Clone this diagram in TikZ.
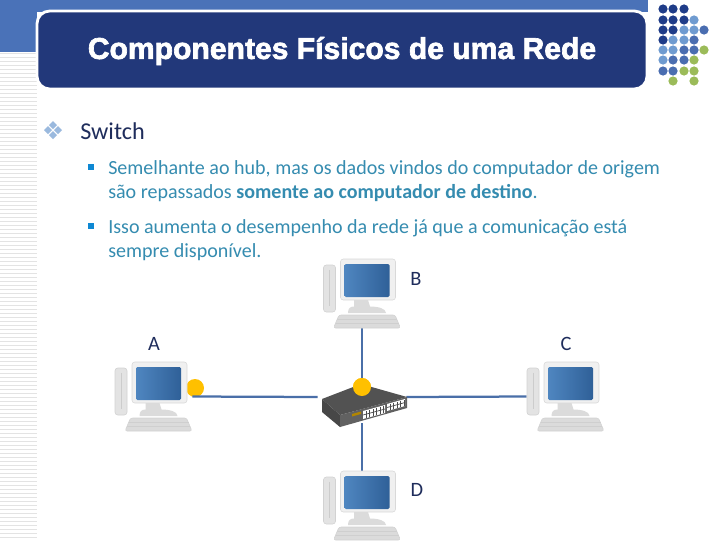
\documentclass[tikz,border=0pt]{standalone}
\usepackage{fontspec}
\setmainfont{Carlito}
\newfontfamily\titlefont[BoldFeatures={FakeBold=2.2}]{Liberation Sans}
\definecolor{bandblue}{HTML}{4A72B8}
\definecolor{titleblue}{HTML}{22387A}
\definecolor{navytxt}{HTML}{1F2D5C}
\definecolor{tealtxt}{HTML}{358CB0}
\definecolor{linkblue}{HTML}{4A6FA8}
\definecolor{dotorange}{HTML}{FFC000}
\definecolor{dotdark}{HTML}{1F3C88}
\definecolor{dotmid}{HTML}{4A6DB0}
\definecolor{dotlight}{HTML}{6F9BD0}
\definecolor{dotgreen}{HTML}{9BBB59}
\definecolor{screenA}{HTML}{4F86C0}
\definecolor{screenB}{HTML}{2F6098}
\def\px{0.025cm}
\tikzset{
  bodytxt/.style = {anchor = base west, inner sep = 0pt, text = tealtxt, font = \fontsize{14.25pt}{16pt}\selectfont},
  headtxt/.style = {anchor = base west, inner sep = 0pt, text = navytxt, font = \fontsize{17.2pt}{19pt}\selectfont},
  pclabel/.style = {inner sep = 0pt, text = navytxt, font = \fontsize{14.5pt}{16pt}\selectfont},
  pcbox/.style = {minimum width = 77*\px, minimum height = 69*\px, inner sep = 0pt},
  link/.style = {color = linkblue, line width = 1.6pt},
  port/.style = {circle, fill = dotorange, minimum size = 18*\px, inner sep = 0pt},
  pc/.pic = {
    % tower
    \draw [gray!35, fill = gray!22, rounded corners = 2pt] (-38.5,-28.5) rectangle (-26.5,18.5);
    \draw [gray!40] (-32.5,-24) -- (-32.5,12);
    % stand
    \fill [gray!28] (-8,6.5) -- (6,6.5) -- (8,13) .. controls (16,13) and (24,15) .. (24,19.5) -- (-14,19.5) .. controls (-14,15) and (-12,13) .. (-8,13) -- cycle;
    % monitor
    \draw [gray!30, fill = gray!12, rounded corners = 2pt] (-21.5,-34.5) rectangle (33.5,6.5);
    \shade [left color = screenA, right color = screenB, rounded corners = 1pt] (-17.5,-29.5) rectangle (27.5,3.5);
    % keyboard
    \draw [gray!35, fill = gray!28, rounded corners = 1.5pt] (-23,21.5) -- (33,21.5) -- (38.5,34.5) -- (-28.5,34.5) -- cycle;
    \draw [gray!38] (-25,26) -- (35,26) (-26.5,30) -- (36.5,30);
  },
}
\begin{document}
\begin{tikzpicture}[x = \px, y = -\px]
\useasboundingbox (0,0) rectangle (720,540);
\fill [white] (0,0) rectangle (720,540);

% left stripes
\foreach \yy in {53,57,...,537}
  \draw [gray!22, line width = 0.6pt] (0,\yy) -- (37,\yy);

% top band
\fill [bandblue] (0,0) rectangle (648,12);
\fill [bandblue] (0,0) rectangle (37,52);
\draw [white, fill = titleblue, line width = 2pt, rounded corners = 9pt] (37,11) rectangle (647,89);
\node (title) [text = white, inner sep = 0pt, font = \titlefont\bfseries\fontsize{21.4pt}{24pt}\selectfont] at (342,51) {Componentes Físicos de uma Rede};

% dots, top right
\foreach \xx/\yy/\cc in {
  663/9/dotdark, 673/9/dotdark, 684/9/dotdark,
  663/20/dotdark, 673/20/dotdark, 684/20/dotdark, 694/20/dotlight,
  663/30/dotdark, 673/30/dotdark, 684/30/dotlight, 694/30/dotlight, 704/30/dotmid,
  663/40/dotdark, 673/40/dotlight, 684/40/dotlight, 694/40/dotmid,
  663/50/dotlight, 673/50/dotlight, 684/50/dotmid, 694/50/dotmid, 704/50/dotgreen,
  663/60/dotlight, 673/60/dotmid, 684/60/dotmid, 694/60/dotgreen,
  663/71/dotmid, 673/71/dotmid, 684/71/dotgreen, 694/71/dotgreen,
  673/81/dotgreen, 694/81/dotgreen}
  \fill [\cc] (\xx,\yy) circle (4.6*\px);

% bullets
\foreach \xx/\yy in {53/125, 53/135, 48/130, 58/130}
  \fill [dotlight!70!white] (\xx-4,\yy) -- (\xx,\yy-4) -- (\xx+4,\yy) -- (\xx,\yy+4) -- cycle;
\foreach \yy in {164, 223}
  \fill [cyan!70!blue] (88,\yy) rectangle (94,\yy+6);

% text
\node (head) [headtxt] at (80,139) {Switch};
\node (lineA) [bodytxt] at (108,174) {Semelhante ao hub, mas os dados vindos do computador de origem};
\node (lineB) [bodytxt] at (108,198) {são repassados \textbf{somente ao computador de destino}.};
\node (lineC) [bodytxt] at (108,233) {Isso aumenta o desempenho da rede já que a comunicação está};
\node (lineD) [bodytxt] at (108,257) {sempre disponível.};

% computers and switch
\node (pcA) [pcbox] at (153.5,396.5) {};
\node (pcB) [pcbox] at (362,293.5) {};
\node (pcC) [pcbox] at (565.5,396.5) {};
\node (pcD) [pcbox] at (362,505.5) {};
\node (swt) [minimum width = 88*\px, minimum height = 52*\px, inner sep = 0pt] at (362,397) {};
\node (dotA) [port] at (195,388) {};
\node (dotS) [port] at (362,387) {};

\draw [link] (pcA.east) -- (swt.west);
\draw [link] (swt.east) -- (pcC.west);
\draw [link] (pcB.south) -- (dotS);
\draw [link] (swt.south) -- (pcD.north);

\pic at (pcA.center) {pc};
\pic at (pcB.center) {pc};
\pic at (pcC.center) {pc};
\pic at (pcD.center) {pc};

% switch body
\fill [black!72] (322,399) -- (340,415) -- (340,427) -- (322,412) -- cycle;
\fill [black!62] (340,415) -- (407,397) -- (407,408) -- (340,427) -- cycle;
\fill [black!68] (322,399) -- (361,384) -- (407,397) -- (340,415) -- cycle;
\fill [white] (363,411) -- (385,405) -- (385,413) -- (363,419) -- cycle;
\fill [white] (387,404) -- (405,399) -- (405,406) -- (387,411) -- cycle;
\foreach \xx in {366,369.5,...,384}
  \draw [black!70, line width = 0.5pt] (\xx,{411-(\xx-363)*0.27+0.5}) -- (\xx,{419-(\xx-363)*0.27-0.5});
\foreach \xx in {390,393.5,...,405}
  \draw [black!70, line width = 0.5pt] (\xx,{404-(\xx-387)*0.27+0.5}) -- (\xx,{411-(\xx-387)*0.27-0.5});
\draw [black!70, line width = 0.5pt] (363,415) -- (385,409) (387,407.5) -- (405,402.5);
\fill [dotorange!70!black] (352,414) -- (361,411.5) -- (361,414) -- (352,416.5) -- cycle;

\node (dotS) [port] at (362,387) {};

% labels
\node (lblA) [pclabel] at (154,344) {A};
\node (lblB) [pclabel] at (416,279) {B};
\node (lblC) [pclabel] at (566,344) {C};
\node (lblD) [pclabel] at (417,490) {D};
\end{tikzpicture}
\end{document}
